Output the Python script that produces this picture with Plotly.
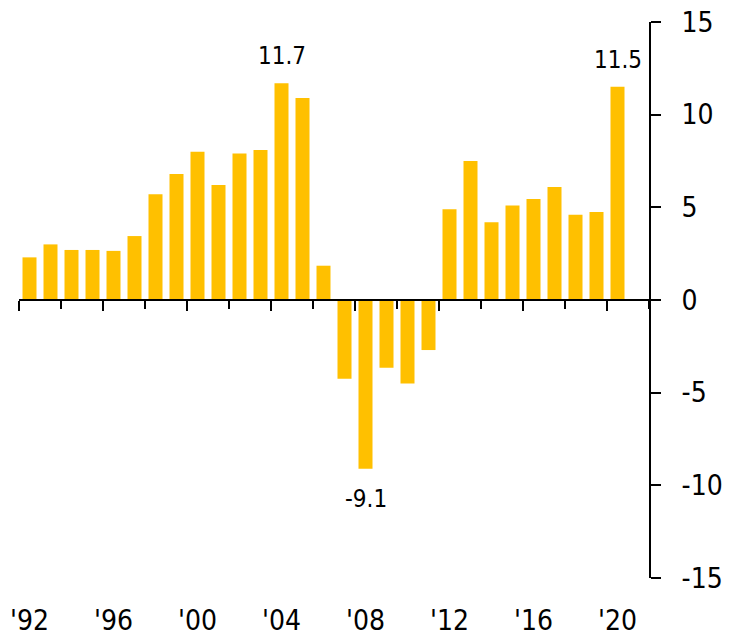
import plotly.graph_objects as go

years = list(range(1992, 2021))
values = [2.3, 3.0, 2.7, 2.7, 2.65, 3.45, 5.7, 6.8, 8.0, 6.2, 7.9, 8.1, 11.7, 10.9, 1.85,
          -4.25, -9.1, -3.65, -4.5, -2.7, 4.9, 7.5, 4.2, 5.1, 5.45, 6.1, 4.6, 4.75, 11.5]
label_years = [1992, 1996, 2000, 2004, 2008, 2012, 2016, 2020]
label_text = ["'92", "'96", "'00", "'04", "'08", "'12", "'16", "'20"]
y_ticks = [-15, -10, -5, 0, 5, 10, 15]
y_text = ["-15", "-10", "-5", "0", "5", "10", "15"]
callouts = [(2004, 11.7, "11.7"), (2008, -9.1, "-9.1"), (2020, 11.5, "11.5")]

FONT = "DejaVu Sans Condensed, DejaVu Sans, sans-serif"
BAR = "#FFC000"

fig = go.Figure()
fig.add_trace(go.Bar(x=years, y=values, marker=dict(color=BAR, line=dict(width=0)),
                     width=0.667, showlegend=False, hoverinfo="skip"))
fig.add_trace(go.Scatter(x=[None], y=[None], xaxis="x2", yaxis="y", mode="markers",
                         showlegend=False, hoverinfo="skip"))

for yr, v, txt in callouts:
    fig.add_annotation(x=yr, y=v, xref="x", yref="y", text=txt, showarrow=False,
                       yanchor="middle", yshift=27 if v > 0 else -30,
                       font=dict(family=FONT, size=24, color="black"))

fig.update_layout(
    width=732, height=642,
    margin=dict(l=11, r=91, t=14, b=72),
    paper_bgcolor="white", plot_bgcolor="white",
    font=dict(family=FONT, color="black"),
    xaxis=dict(range=[1991.5, 2021.5], tickmode="array", tickvals=label_years,
               ticktext=label_text, showline=False, ticks="", showgrid=False,
               zeroline=False, tickfont=dict(size=28, family=FONT),
               ticklabelstandoff=23, automargin=False, ticklabeloverflow="allow"),
    xaxis2=dict(range=[1991.5, 2021.5], overlaying="x", anchor="free", position=0.5,
                showticklabels=False, showgrid=False, zeroline=False,
                showline=True, linecolor="black", linewidth=2,
                tickmode="linear", tick0=1991.5, dtick=4,
                ticks="outside", ticklen=10, tickwidth=2, tickcolor="black",
                automargin=False,
                minor=dict(dtick=2, tick0=1991.5, ticks="outside", ticklen=8,
                           tickwidth=2, tickcolor="black", showgrid=False)),
    yaxis=dict(range=[-15, 15], side="right", tickmode="array", tickvals=y_ticks,
               ticktext=y_text,
               showline=True, linecolor="black", linewidth=2,
               ticks="outside", ticklen=10, tickwidth=2, tickcolor="black",
               showgrid=False, zeroline=False, automargin=False,
               ticklabeloverflow="allow",
               tickfont=dict(size=28, family=FONT), ticklabelstandoff=15),
    bargap=0.333,
)

fig.write_html("out.html")
